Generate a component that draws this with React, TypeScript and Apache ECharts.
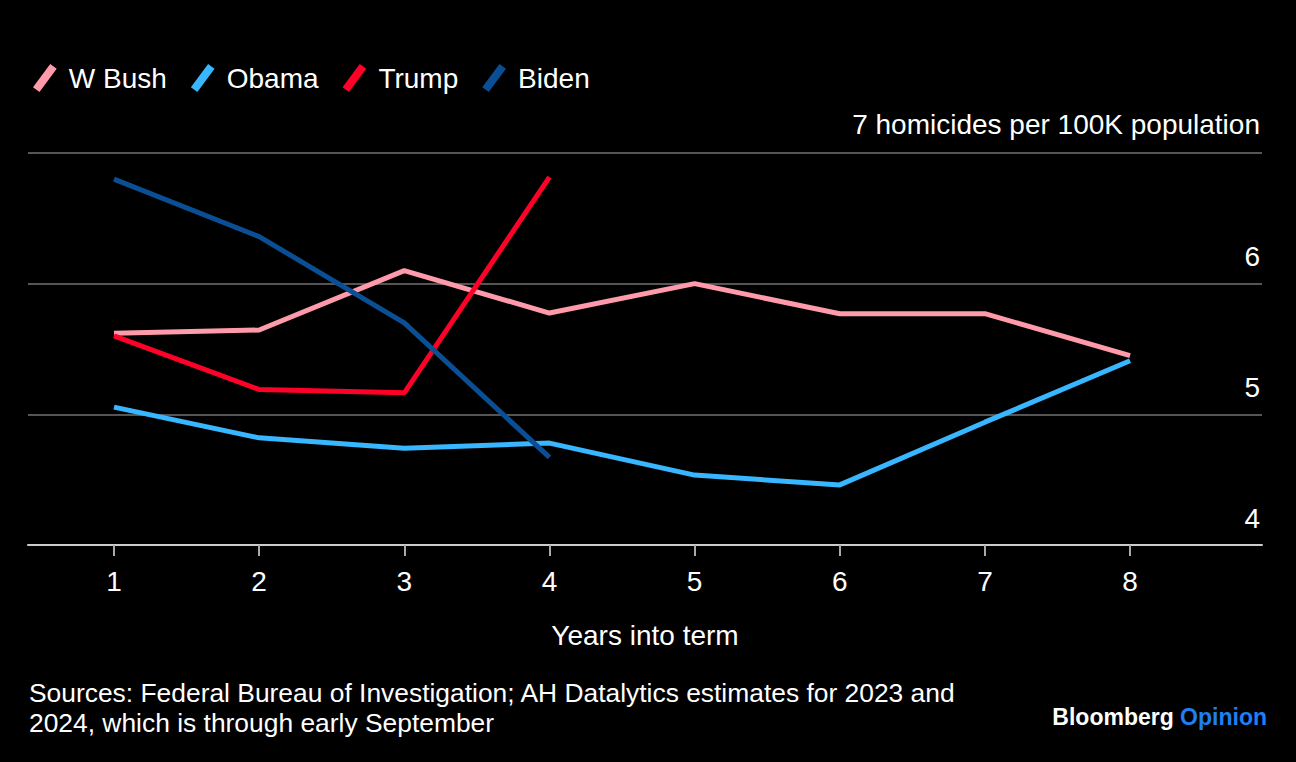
import React, { useEffect, useRef } from "react";
import * as echarts from "echarts";

const years = [1, 2, 3, 4, 5, 6, 7, 8];
const bush = [5.62, 5.645, 6.1, 5.775, 6.0, 5.77, 5.77, 5.45];
const obama = [5.055, 4.82, 4.74, 4.78, 4.535, 4.46, 4.94, 5.41];
const trump = [5.6, 5.19, 5.165, 6.815];
const biden = [6.8, 6.36, 5.7, 4.67];
const seriesNames = ["W Bush", "Obama", "Trump", "Biden"];
const seriesColors = ["#ff9aaa", "#38b6ff", "#ff0028", "#0a4f96"];
const seriesValues = [bush, obama, trump, biden];
const yTicks = [4, 5, 6, 7];
const topLabel = "7 homicides per 100K population";
const xTitle = "Years into term";
const sourceLines = [
  "Sources: Federal Bureau of Investigation; AH Datalytics estimates for 2023 and",
  "2024, which is through early September",
];

const FONT = "'Liberation Sans', Arial, Helvetica, sans-serif";
const SLASH = "path://M0,21.5 L16,0 L22,4.5 L6,26 Z";

export default function App() {
  const ref = useRef<HTMLDivElement>(null);
  useEffect(() => {
    if (!ref.current) return;
    const chart = echarts.init(ref.current, null, { renderer: "svg" });
    chart.setOption({
      animation: false,
      backgroundColor: "#000000",
      textStyle: { fontFamily: FONT },
      legend: {
        left: 28,
        top: 59,
        itemWidth: 24,
        itemHeight: 28,
        itemGap: 24,
        icon: SLASH,
        data: seriesNames.map((n, i) => ({
          name: n,
          icon: SLASH,
          itemStyle: { color: seriesColors[i] },
        })),
        textStyle: {
          color: "#ffffff",
          fontSize: 28,
          fontFamily: FONT,
          padding: [0, 0, 0, 7],
        },
      },
      grid: { left: 28, right: 34, top: 153, bottom: 217 },
      xAxis: {
        type: "value",
        min: 0.4075,
        max: 8.909,
        name: xTitle,
        nameLocation: "middle",
        nameGap: 76,
        nameTextStyle: { color: "#ffffff", fontSize: 28, fontFamily: FONT },
        axisLine: { show: true, lineStyle: { color: "#cccccc", width: 2 } },
        axisTick: {
          show: true,
          customValues: years,
          length: 11,
          lineStyle: { color: "#aaaaaa", width: 2 },
        },
        axisLabel: {
          customValues: years,
          color: "#ffffff",
          fontSize: 28,
          margin: 22,
          fontFamily: FONT,
        },
        splitLine: { show: false },
      },
      yAxis: {
        type: "value",
        position: "right",
        min: 4,
        max: 7,
        interval: 1,
        axisLine: { show: false },
        axisTick: { show: false },
        splitLine: { show: true, lineStyle: { color: "#555555", width: 2 } },
        axisLabel: {
          inside: true,
          margin: 2,
          color: "#ffffff",
          fontSize: 28,
          fontFamily: FONT,
          verticalAlign: "bottom",
          lineHeight: 28,
          padding: [0, 0, 13, 0],
          customValues: yTicks,
          formatter: (v: number) => (v === 7 ? "{t|" + topLabel + "}" : String(v)),
          rich: {
            t: {
              color: "#ffffff",
              fontSize: 28,
              fontFamily: FONT,
              lineHeight: 28,
              padding: [0, 0, 3, 0],
            },
          },
        },
      },
      series: seriesNames.map((n, i) => ({
        name: n,
        type: "line",
        symbol: "none",
        color: seriesColors[i],
        lineStyle: { width: 5, color: seriesColors[i] },
        data: seriesValues[i].map((v, j) => [years[j], v]),
      })),
      graphic: [
        {
          type: "text",
          left: 29,
          top: 678,
          style: {
            text: sourceLines.join("\n"),
            fill: "#ffffff",
            fontSize: 26.4,
            lineHeight: 30,
            fontFamily: FONT,
          },
        },
        {
          type: "text",
          right: 29,
          top: 705,
          style: {
            text: "{a|Bloomberg} {b|Opinion}",
            rich: {
              a: { fill: "#ffffff", fontSize: 23, fontWeight: "bold", fontFamily: FONT },
              b: { fill: "#1f7ff2", fontSize: 23, fontWeight: "bold", fontFamily: FONT },
            },
            fontSize: 23,
            fontWeight: "bold",
            fontFamily: FONT,
          },
        },
      ],
    });
    return () => chart.dispose();
  }, []);
  return (
    <div
      ref={ref}
      style={{ position: "fixed", left: 0, top: 0, width: 1296, height: 762, background: "#000" }}
    />
  );
}
